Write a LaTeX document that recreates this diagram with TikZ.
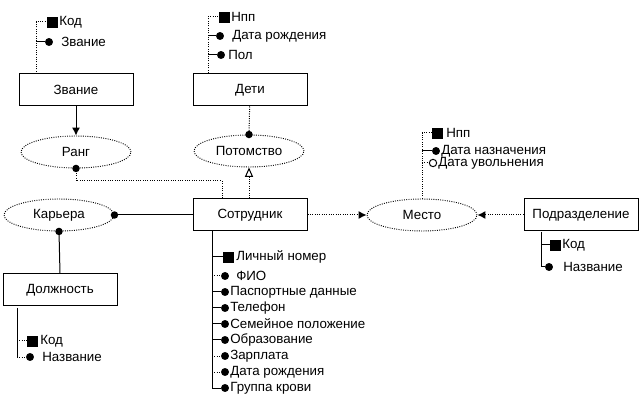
\documentclass[tikz,border=0pt]{standalone}
\usepackage{fontspec}
\setmainfont{Liberation Sans}
\usetikzlibrary{shapes.geometric,arrows.meta,positioning}
\tikzset{
  entity/.style ={rectangle,draw,line width=0.75pt,minimum width=85.5pt,
                  minimum height=24pt,inner sep=0pt,font=\fontsize{10}{12}\selectfont},
  link/.style   ={ellipse,draw,densely dotted,line width=0.7pt,minimum width=82.5pt,
                  minimum height=24pt,inner sep=0pt,font=\fontsize{10}{12}\selectfont},
  keysq/.style  ={rectangle,draw,fill,minimum size=7.5pt,inner sep=0pt},
  attr/.style   ={circle,draw,fill,minimum size=5.5pt,inner sep=0pt},
  optattr/.style={circle,draw,fill=white,line width=0.75pt,minimum size=5.5pt,inner sep=0pt},
  lbl/.style    ={anchor=west,inner sep=0pt,font=\fontsize{10}{12}\selectfont},
  solidln/.style={line width=0.75pt},
  dotln/.style  ={line width=0.75pt,densely dotted},
  arr/.style    ={-{Latex[length=6pt,width=6pt]}},
  openarr/.style={-{Triangle[open,length=7pt,width=6pt]}}
}

\begin{document}
\begin{tikzpicture}[x=0.75pt,y=-0.75pt]
  \useasboundingbox (0,0) rectangle (642,409);

  % Entities
  \node (zvanie) at (76,90)   [entity] {Звание};
  \node (deti)   at (250,90)  [entity] {Дети};
  \node (sotr)   at (250,215) [entity] {Сотрудник};
  \node (dolzh)  at (60,290)  [entity] {Должность};
  \node (podr)   at (581,215) [entity] {Подразделение};

  % Relationships
  \node (rang)   at (76,152)  [link] {Ранг};
  \node (potom)  at (249,151) [link] {Потомство};
  \node (karera) at (59,215)  [link] {Карьера};
  \node (mesto)  at (422,215) [link] {Место};

  % Links
  \draw[solidln,arr] (zvanie) -- (rang);
  \draw[dotln] (deti) -- (potom.north);
  \fill (potom.north) circle[radius=2.8pt];
  \coordinate (rangK) at (222,181);
  \draw[dotln] (rang.south) |- (rangK) -- (sotr.north -| rangK);
  \fill (rang.south) circle[radius=2.8pt];
  \draw[dotln,openarr] (sotr.north -| potom) -- (potom.south);
  \draw[solidln] (karera.east) -- (karera.east -| sotr.west);
  \fill (karera.east) circle[radius=2.8pt];
  \draw[solidln] (karera.south) -- (dolzh.north);
  \fill (karera.south) circle[radius=2.8pt];
  \draw[dotln,arr] (sotr) -- (mesto);
  \draw[dotln,arr] (podr) -- (mesto);

  % Zvanie attributes
  \coordinate (zvT) at (36,74);
  \node (zv1) at (52,22) [keysq] {};
  \node (zv2) at (49,42) [attr] {};
  \node (zv1t) at (59,22) [lbl] {Код};
  \node (zv2t) at (61,42) [lbl] {Звание};
  \draw[dotln] (zvT) |- (zv1);
  \draw[solidln] (zvT |- zv2) -- (zv2);

  % Deti attributes
  \coordinate (deT) at (208,73);
  \node (de1) at (224,17) [keysq] {};
  \node (de2) at (220,36) [attr] {};
  \node (de3) at (221,55) [attr] {};
  \node (de1t) at (231,17) [lbl] {Нпп};
  \node (de2t) at (232,36) [lbl] {Дата рождения};
  \node (de3t) at (228,55) [lbl] {Пол};
  \draw[dotln] (deT) |- (de1);
  \draw[solidln] (deT |- de2) -- (de2);
  \draw[solidln] (deT |- de3) -- (de3);

  % Mesto attributes
  \node (me1) at (437,133) [keysq] {};
  \node (me2) at (436,151) [attr] {};
  \node (me3) at (433,163) [optattr] {};
  \node (me1t) at (446,133) [lbl] {Нпп};
  \node (me2t) at (441,151) [lbl] {Дата назначения};
  \node (me3t) at (438,163) [lbl] {Дата увольнения};
  \draw[dotln] (mesto.north) |- (me1);
  \draw[solidln] (mesto.north |- me2) -- (me2);
  \draw[dotln] (mesto.north |- me3) -- (me3);

  % Podrazdelenie attributes
  \coordinate (poT) at (541,232);
  \node (po1) at (555,245) [keysq] {};
  \node (po2) at (549,267) [attr] {};
  \node (po1t) at (562,245) [lbl] {Код};
  \node (po2t) at (563,267) [lbl] {Название};
  \draw[solidln] (poT) |- (po1);
  \draw[solidln] (poT) |- (po2);

  % Sotrudnik attributes
  \coordinate (soT) at (212,231);
  \node (so1) at (228,257) [keysq] {};
  \node (so2) at (225,276) [attr] {};
  \node (so3) at (225,292) [attr] {};
  \node (so4) at (225,308) [attr] {};
  \node (so5) at (225,324) [attr] {};
  \node (so6) at (225,340) [attr] {};
  \node (so7) at (225,356) [attr] {};
  \node (so8) at (225,372) [attr] {};
  \node (so9) at (225,388) [attr] {};
  \node (so1t) at (236,257) [lbl] {Личный номер};
  \node (so2t) at (236,276) [lbl] {ФИО};
  \node (so3t) at (230,292) [lbl] {Паспортные данные};
  \node (so4t) at (230,308) [lbl] {Телефон};
  \node (so5t) at (230,324) [lbl] {Семейное положение};
  \node (so6t) at (230,340) [lbl] {Образование};
  \node (so7t) at (230,356) [lbl] {Зарплата};
  \node (so8t) at (230,372) [lbl] {Дата рождения};
  \node (so9t) at (230,388) [lbl] {Группа крови};
  \draw[solidln] (soT) |- (so9);
  \draw[solidln] (soT |- so1) -- (so1);
  \draw[dotln]   (soT |- so2) -- (so2);
  \draw[solidln] (soT |- so3) -- (so3);
  \draw[solidln] (soT |- so4) -- (so4);
  \draw[solidln] (soT |- so5) -- (so5);
  \draw[solidln] (soT |- so6) -- (so6);
  \draw[dotln]   (soT |- so7) -- (so7);
  \draw[dotln]   (soT |- so8) -- (so8);

  % Dolzhnost attributes
  \coordinate (dlT) at (17,308);
  \node (dl1) at (32,341) [keysq] {};
  \node (dl2) at (30,357) [attr] {};
  \node (dl1t) at (40,341) [lbl] {Код};
  \node (dl2t) at (42,357) [lbl] {Название};
  \draw[solidln] (dlT) -- (dlT |- dl2);
  \draw[dotln] (dlT |- dl1) -- (dl1);
  \draw[dotln] (dlT |- dl2) -- (dl2);
\end{tikzpicture}
\end{document}
